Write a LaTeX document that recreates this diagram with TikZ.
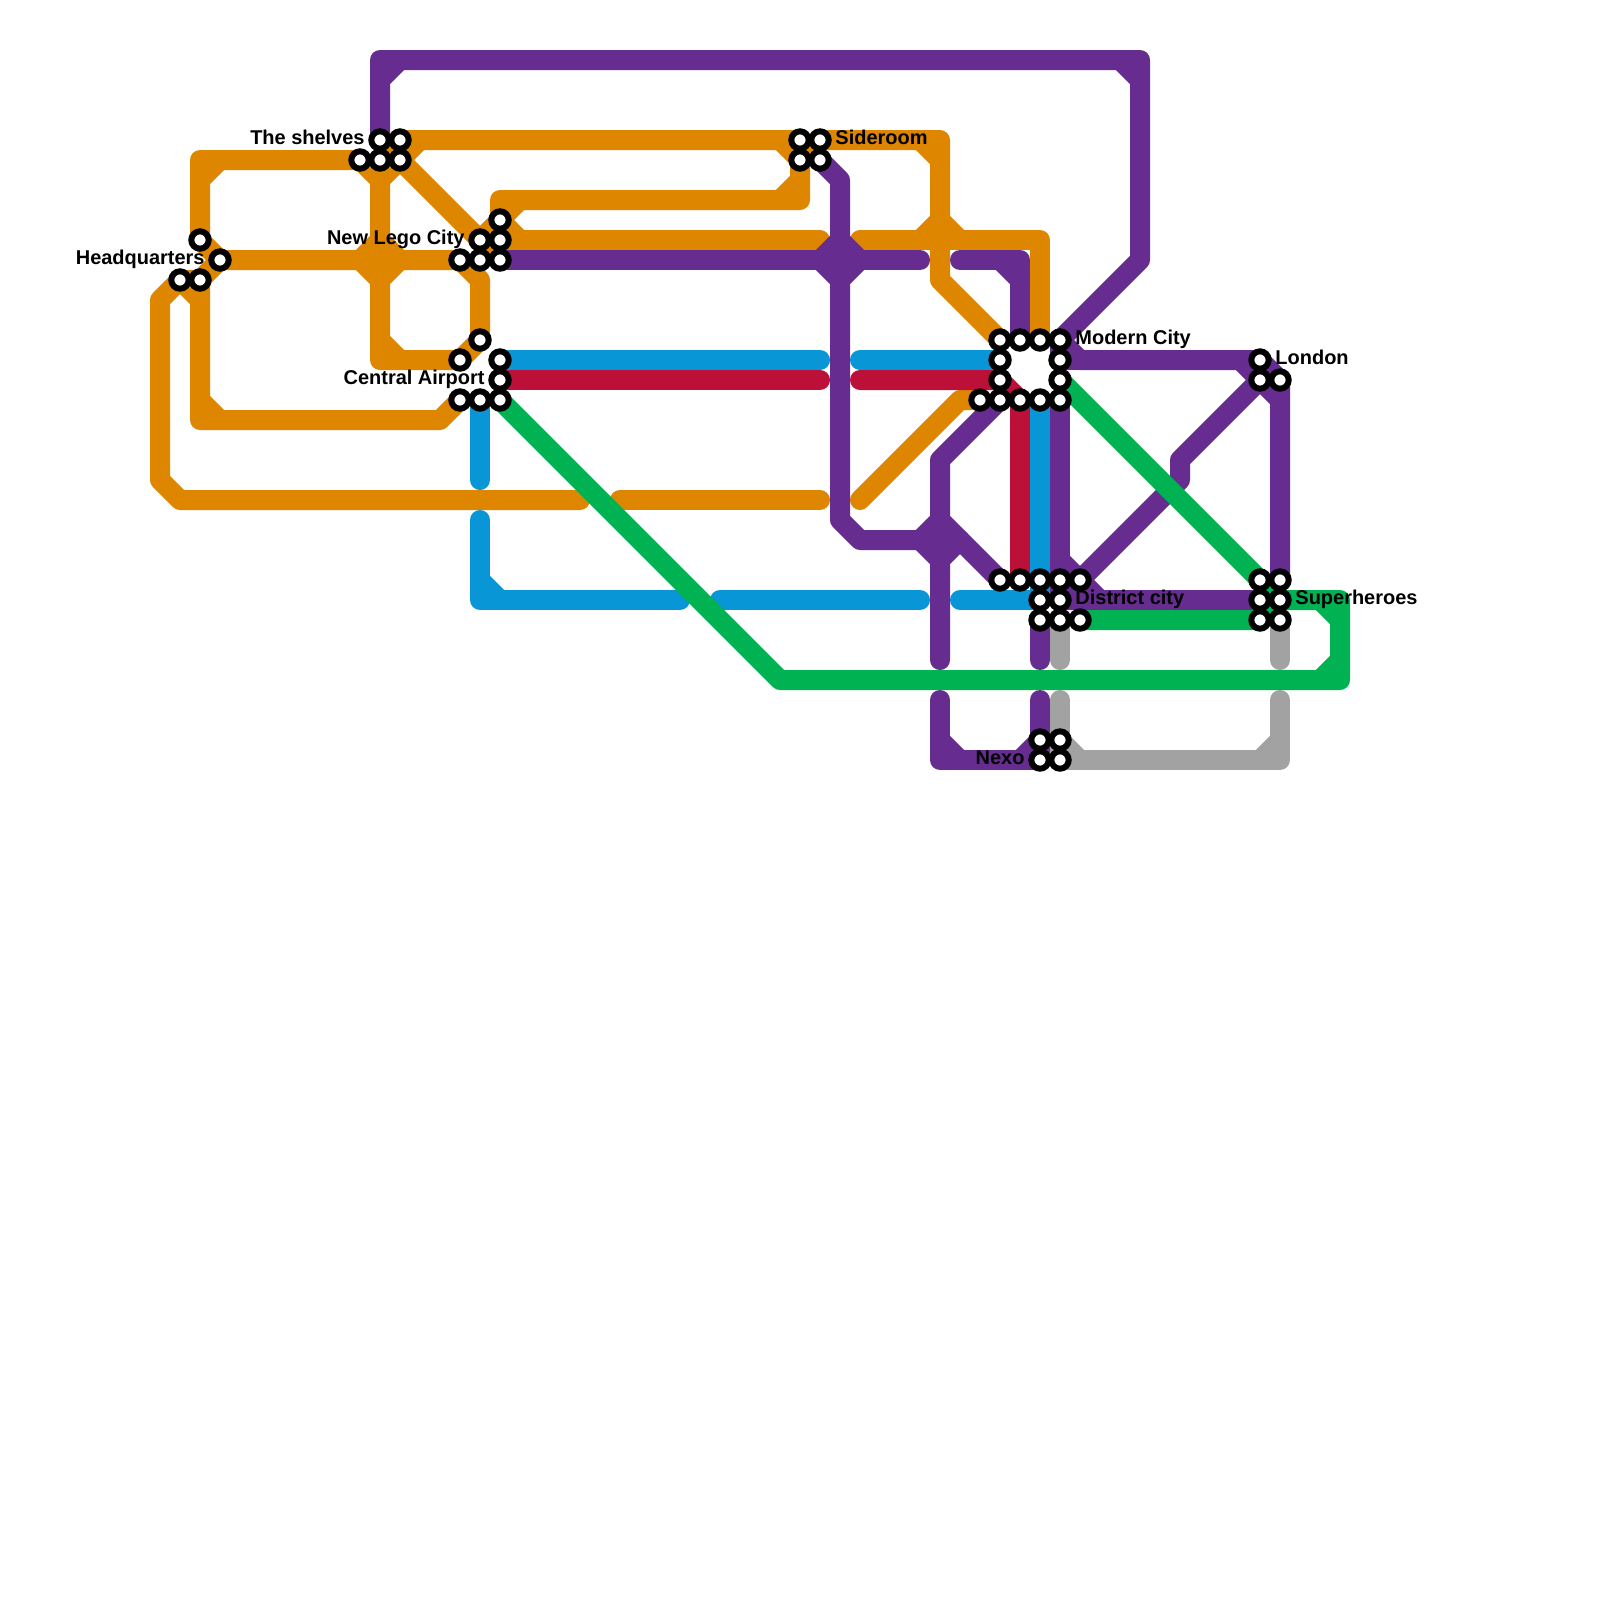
\documentclass[tikz,border=0pt]{standalone}
\usepackage{fontspec}
\setmainfont{Liberation Sans}
\usetikzlibrary{positioning, backgrounds}
\definecolor{lineorange}{RGB}{223,134,0}
\definecolor{linepurple}{RGB}{102,44,144}
\definecolor{lineblue}{RGB}{8,150,215}
\definecolor{linered}{RGB}{189,16,56}
\definecolor{linegreen}{RGB}{0,178,81}
\definecolor{linegrey}{RGB}{162,162,162}
\tikzset{
  stop/.style={circle, draw=black, fill=white, line width=0.75mm,
    minimum size=2.175mm, inner sep=0pt},
  stoplabel/.style={inner sep=0pt, text height=5pt, text depth=1.5pt,
    font=\fontsize{7.1}{8}\selectfont\bfseries},
  track/.style={line width=2.5mm, line cap=round, line join=round},
  orangeline/.style={track, color=lineorange},
  purpleline/.style={track, color=linepurple},
  blueline/.style={track, color=lineblue},
  redline/.style={track, color=linered},
  greenline/.style={track, color=linegreen},
  greyline/.style={track, color=linegrey}
}
\begin{document}
\begin{tikzpicture}[x=0.25cm, y=-0.25cm]
  \useasboundingbox (0,0) rectangle (80,80);

  % The shelves
  \node[stop] (sa) at (19,7) {};
  \node[stop] (sb) at (20,7) {};
  \node[stop] (sc) at (18,8) {};
  \node[stop] (sd) at (19,8) {};
  \node[stop] (se) at (20,8) {};
  % Headquarters
  \node[stop] (ha) at (10,12) {};
  \node[stop] (hb) at (11,13) {};
  \node[stop] (hc) at (9,14) {};
  \node[stop] (hd) at (10,14) {};
  % New Lego City
  \node[stop] (la) at (25,11) {};
  \node[stop] (lb) at (24,12) {};
  \node[stop] (lc) at (25,12) {};
  \node[stop] (ld) at (23,13) {};
  \node[stop] (le) at (24,13) {};
  \node[stop] (lf) at (25,13) {};
  % Central Airport
  \node[stop] (aa) at (24,17) {};
  \node[stop] (ab) at (23,18) {};
  \node[stop] (ac) at (25,18) {};
  \node[stop] (ad) at (25,19) {};
  \node[stop] (ae) at (23,20) {};
  \node[stop] (af) at (24,20) {};
  \node[stop] (ag) at (25,20) {};
  % Sideroom
  \node[stop] (ra) at (40,7) {};
  \node[stop] (rb) at (41,7) {};
  \node[stop] (rc) at (40,8) {};
  \node[stop] (rd) at (41,8) {};
  % Modern City
  \node[stop] (ma) at (50,17) {};
  \node[stop] (mb) at (51,17) {};
  \node[stop] (mc) at (52,17) {};
  \node[stop] (md) at (53,17) {};
  \node[stop] (me) at (50,18) {};
  \node[stop] (mf) at (53,18) {};
  \node[stop] (mg) at (50,19) {};
  \node[stop] (mh) at (53,19) {};
  \node[stop] (mi) at (49,20) {};
  \node[stop] (mj) at (50,20) {};
  \node[stop] (mk) at (51,20) {};
  \node[stop] (ml) at (52,20) {};
  \node[stop] (mn) at (53,20) {};
  % District city
  \node[stop] (da) at (50,29) {};
  \node[stop] (db) at (51,29) {};
  \node[stop] (dc) at (52,29) {};
  \node[stop] (dd) at (53,29) {};
  \node[stop] (de) at (54,29) {};
  \node[stop] (df) at (52,30) {};
  \node[stop] (dg) at (53,30) {};
  \node[stop] (dh) at (52,31) {};
  \node[stop] (di) at (53,31) {};
  \node[stop] (dj) at (54,31) {};
  % London
  \node[stop] (na) at (63,18) {};
  \node[stop] (nb) at (63,19) {};
  \node[stop] (nc) at (64,19) {};
  % Superheroes
  \node[stop] (ua) at (63,29) {};
  \node[stop] (ub) at (64,29) {};
  \node[stop] (uc) at (63,30) {};
  \node[stop] (ud) at (64,30) {};
  \node[stop] (ue) at (63,31) {};
  \node[stop] (uf) at (64,31) {};
  % Nexo
  \node[stop] (xa) at (52,37) {};
  \node[stop] (xb) at (53,37) {};
  \node[stop] (xc) at (52,38) {};
  \node[stop] (xd) at (53,38) {};

  \node[stoplabel, left=0.04cm of sa] (shelves) {The shelves};
  \node[stoplabel, left=0.04cm of hb] (hq) {Headquarters};
  \node[stoplabel, left=0.04cm of lb] (lego) {New Lego City};
  \node[stoplabel, left=0.04cm of ad] (airport) {Central Airport};
  \node[stoplabel, right=0.04cm of rb] (sideroom) {Sideroom};
  \node[stoplabel, right=0.04cm of md] (modern) {Modern City};
  \node[stoplabel, right=0.04cm of na] (london) {London};
  \node[stoplabel, right=0.04cm of dg] (district) {District city};
  \node[stoplabel, right=0.04cm of ud] (heroes) {Superheroes};
  \node[stoplabel, left=0.04cm of xc] (nexo) {Nexo};

  % free ends at the gaps
  \coordinate (oa) at (41,12);
  \coordinate (ob) at (43,12);
  \coordinate (oc) at (29,25);
  \coordinate (od) at (31,25);
  \coordinate (oe) at (41,25);
  \coordinate (of) at (43,25);
  \coordinate (pa) at (46,13);
  \coordinate (pb) at (48,13);
  \coordinate (pc) at (47,33);
  \coordinate (pd) at (47,35);
  \coordinate (pe) at (52,33);
  \coordinate (pf) at (52,35);
  \coordinate (ba) at (41,18);
  \coordinate (bb) at (43,18);
  \coordinate (bc) at (24,24);
  \coordinate (bd) at (24,26);
  \coordinate (be) at (34,30);
  \coordinate (bf) at (36,30);
  \coordinate (bg) at (46,30);
  \coordinate (bh) at (48,30);
  \coordinate (ca) at (41,19);
  \coordinate (cb) at (43,19);
  \coordinate (ga) at (53,33);
  \coordinate (gb) at (53,35);
  \coordinate (gc) at (64,33);
  \coordinate (gd) at (64,35);

  \begin{pgfonlayer}{background}
    % grey
    \draw[greyline] (di.center) -- (ga);
    \draw[greyline] (gb) -- (xd.center) -- (64,38) -- (gd);
    \draw[greyline] (uf.center) -- (gc);
    \draw[greyline] (53,37) -- (54,38) (63,38) -- (64,37);

    % orange
    \draw[orangeline] (sc.center) -- (10,8) -- (ha.center) -- (hb.center) -- (ld.center)
      -- (24,14) -- (aa.center) -- (ab.center) -- (19,18) -- (19,9) -- (se.center);
    \draw[orangeline] (sd.center) -- (19,9) -- (sc.center);
    \draw[orangeline] (sd.center) -- (sb.center) -- (ra.center) -- (rc.center)
      -- (40,10) -- (25,10) -- (lc.center);
    \draw[orangeline] (se.center) -- (lb.center) -- (la.center) -- (26,12);
    \draw[orangeline] (se.center) -- (21,7);
    \draw[orangeline] (le.center) -- (lc.center) -- (oa);
    \draw[orangeline] (ob) -- (52,12) -- (mc.center);
    \draw[orangeline] (rc.center) -- (rb.center) -- (47,7) -- (47,14) -- (ma.center);
    \draw[orangeline] (mi.center) -- (48,20) -- (of);
    \draw[orangeline] (hd.center) -- (hc.center) -- (8,15) -- (8,24) -- (9,25) -- (oc);
    \draw[orangeline] (od) -- (oe);
    \draw[orangeline] (hb.center) -- (hd.center) -- (10,21) -- (22,21) -- (ae.center);
    \draw[orangeline] (hc.center) -- (10,15);
    \draw[orangeline] (10,9) -- (11,8) (10,20) -- (11,21) (19,17) -- (20,18)
      (39,7) -- (rc.center) (39,10) -- (40,9) (26,10) -- (la.center)
      (46,7) -- (47,8) (46,12) -- (47,11) -- (48,12);
    \draw[orangeline] (18,13) -- (19,12) -- (20,13) -- (19,14) -- cycle;

    % red
    \draw[redline] (ad.center) -- (ca);
    \draw[redline] (cb) -- (mg.center) -- (mk.center) -- (db.center);

    % blue
    \draw[blueline] (ac.center) -- (ba);
    \draw[blueline] (bb) -- (me.center);
    \draw[blueline] (af.center) -- (bc);
    \draw[blueline] (bd) -- (24,30) -- (be);
    \draw[blueline] (24,29) -- (25,30);
    \draw[blueline] (bf) -- (bg);
    \draw[blueline] (bh) -- (df.center) -- (ml.center);

    % purple
    \draw[purpleline] (sa.center) -- (19,3) -- (57,3) -- (57,13) -- (md.center)
      -- (54,18) -- (63,18) -- (nc.center) -- (ub.center);
    \draw[purpleline] (md.center) -- (mf.center) -- (54,18);
    \draw[purpleline] (19,4) -- (20,3) (56,3) -- (57,4) (62,18) -- (64,20);
    \draw[purpleline] (nb.center) -- (59,23) -- (59,24) -- (de.center);
    \draw[purpleline] (lf.center) -- (pa);
    \draw[purpleline] (pb) -- (51,13) -- (mb.center);
    \draw[purpleline] (50,13) -- (51,14);
    \draw[purpleline] (41,13) -- (42,12) -- (43,13) -- (42,14) -- cycle;
    \draw[purpleline] (rd.center) -- (42,9) -- (42,26) -- (43,27) -- (47,27);
    \draw[purpleline] (mj.center) -- (47,23) -- (pc);
    \draw[purpleline] (47,26) -- (da.center);
    \draw[purpleline] (46,27) -- (47,26) (46,27) -- (47,28) -- (48,27);
    \draw[purpleline] (pd) -- (47,38) -- (xc.center) -- (xa.center) -- (pf);
    \draw[purpleline] (47,37) -- (48,38) (51,38) -- (xa.center);
    \draw[purpleline] (dh.center) -- (pe);
    \draw[purpleline] (mn.center) -- (dd.center) -- (dg.center) -- (uc.center);
    \draw[purpleline] (dd.center) -- (54,30) (53,28) -- (55,30);

    % green
    \draw[greenline] (ag.center) -- (39,34) -- (67,34) -- (67,30) -- (ud.center)
      -- (ua.center) -- (mh.center);
    \draw[greenline] (ud.center) -- (ue.center) -- (dj.center);
    \draw[greenline] (66,30) -- (67,31) (66,34) -- (67,33);
  \end{pgfonlayer}
\end{tikzpicture}
\end{document}
